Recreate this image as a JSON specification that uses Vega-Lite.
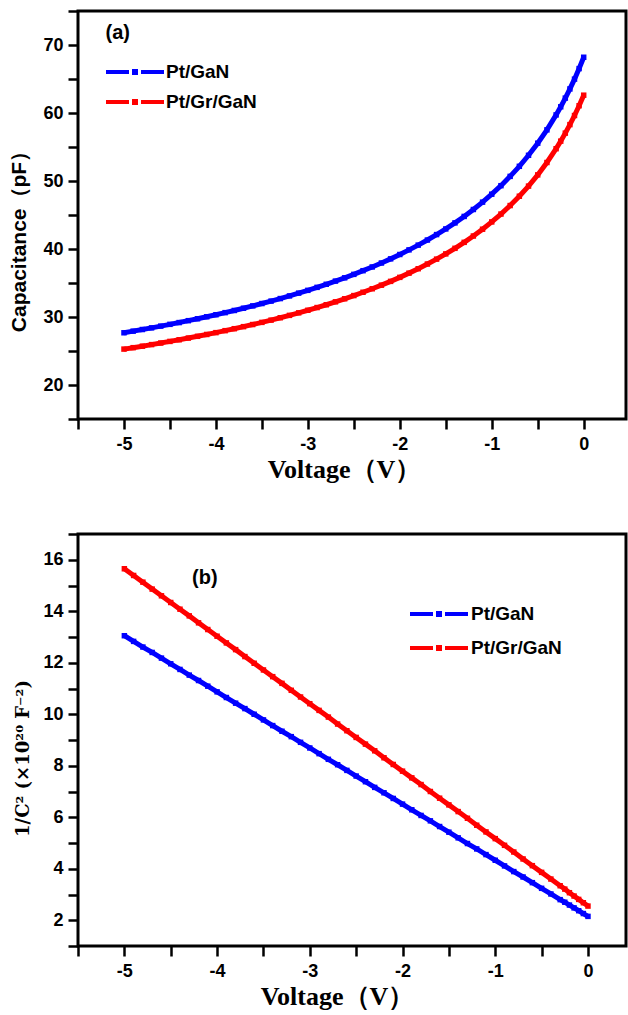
{
  "$schema": "https://vega.github.io/schema/vega-lite/v6.json",
  "background": "white",
  "padding": {"left": 6, "top": 0, "right": 0, "bottom": 4},
  "config": {
    "view": {"stroke": "black", "strokeWidth": 3},
    "axis": {"domain": false, "grid": false, "tickColor": "black", "tickWidth": 2.5, "labelColor": "black", "labelFont": "Liberation Sans", "labelFontWeight": "bold", "labelFontSize": 18, "titleColor": "black", "labelFlush": false, "labelOverlap": false, "tickCount": 40},
    "legend": {"title": null, "symbolType": "M-2.9,0H-0.6M0.6,0H2.9M-0.1,-0.1H0.1V0.1H-0.1Z", "symbolSize": 400, "symbolStrokeWidth": 4, "labelFont": "Liberation Sans", "labelFontWeight": "bold", "labelFontSize": 19, "labelColor": "black", "labelOffset": 18, "padding": 0, "symbolOffset": 0}
  },
  "data": {"values": [
    {"voltage": -5.0, "sample": "Pt/GaN", "capacitance": 27.68, "invC2": 13.05},
    {"voltage": -4.9, "sample": "Pt/GaN", "capacitance": 27.92, "invC2": 12.83},
    {"voltage": -4.8, "sample": "Pt/GaN", "capacitance": 28.16, "invC2": 12.61},
    {"voltage": -4.7, "sample": "Pt/GaN", "capacitance": 28.40, "invC2": 12.40},
    {"voltage": -4.6, "sample": "Pt/GaN", "capacitance": 28.66, "invC2": 12.18},
    {"voltage": -4.5, "sample": "Pt/GaN", "capacitance": 28.92, "invC2": 11.96},
    {"voltage": -4.4, "sample": "Pt/GaN", "capacitance": 29.18, "invC2": 11.74},
    {"voltage": -4.3, "sample": "Pt/GaN", "capacitance": 29.46, "invC2": 11.52},
    {"voltage": -4.2, "sample": "Pt/GaN", "capacitance": 29.74, "invC2": 11.31},
    {"voltage": -4.1, "sample": "Pt/GaN", "capacitance": 30.03, "invC2": 11.09},
    {"voltage": -4.0, "sample": "Pt/GaN", "capacitance": 30.33, "invC2": 10.87},
    {"voltage": -3.9, "sample": "Pt/GaN", "capacitance": 30.64, "invC2": 10.65},
    {"voltage": -3.8, "sample": "Pt/GaN", "capacitance": 30.96, "invC2": 10.43},
    {"voltage": -3.7, "sample": "Pt/GaN", "capacitance": 31.29, "invC2": 10.22},
    {"voltage": -3.6, "sample": "Pt/GaN", "capacitance": 31.63, "invC2": 10.00},
    {"voltage": -3.5, "sample": "Pt/GaN", "capacitance": 31.98, "invC2": 9.78},
    {"voltage": -3.4, "sample": "Pt/GaN", "capacitance": 32.34, "invC2": 9.56},
    {"voltage": -3.3, "sample": "Pt/GaN", "capacitance": 32.71, "invC2": 9.34},
    {"voltage": -3.2, "sample": "Pt/GaN", "capacitance": 33.10, "invC2": 9.13},
    {"voltage": -3.1, "sample": "Pt/GaN", "capacitance": 33.51, "invC2": 8.91},
    {"voltage": -3.0, "sample": "Pt/GaN", "capacitance": 33.92, "invC2": 8.69},
    {"voltage": -2.9, "sample": "Pt/GaN", "capacitance": 34.36, "invC2": 8.47},
    {"voltage": -2.8, "sample": "Pt/GaN", "capacitance": 34.81, "invC2": 8.25},
    {"voltage": -2.7, "sample": "Pt/GaN", "capacitance": 35.28, "invC2": 8.04},
    {"voltage": -2.6, "sample": "Pt/GaN", "capacitance": 35.76, "invC2": 7.82},
    {"voltage": -2.5, "sample": "Pt/GaN", "capacitance": 36.27, "invC2": 7.60},
    {"voltage": -2.4, "sample": "Pt/GaN", "capacitance": 36.81, "invC2": 7.38},
    {"voltage": -2.3, "sample": "Pt/GaN", "capacitance": 37.36, "invC2": 7.16},
    {"voltage": -2.2, "sample": "Pt/GaN", "capacitance": 37.94, "invC2": 6.95},
    {"voltage": -2.1, "sample": "Pt/GaN", "capacitance": 38.55, "invC2": 6.73},
    {"voltage": -2.0, "sample": "Pt/GaN", "capacitance": 39.19, "invC2": 6.51},
    {"voltage": -1.9, "sample": "Pt/GaN", "capacitance": 39.87, "invC2": 6.29},
    {"voltage": -1.8, "sample": "Pt/GaN", "capacitance": 40.57, "invC2": 6.07},
    {"voltage": -1.7, "sample": "Pt/GaN", "capacitance": 41.32, "invC2": 5.86},
    {"voltage": -1.6, "sample": "Pt/GaN", "capacitance": 42.12, "invC2": 5.64},
    {"voltage": -1.5, "sample": "Pt/GaN", "capacitance": 42.95, "invC2": 5.42},
    {"voltage": -1.4, "sample": "Pt/GaN", "capacitance": 43.84, "invC2": 5.20},
    {"voltage": -1.3, "sample": "Pt/GaN", "capacitance": 44.79, "invC2": 4.98},
    {"voltage": -1.2, "sample": "Pt/GaN", "capacitance": 45.81, "invC2": 4.77},
    {"voltage": -1.1, "sample": "Pt/GaN", "capacitance": 46.89, "invC2": 4.55},
    {"voltage": -1.0, "sample": "Pt/GaN", "capacitance": 48.06, "invC2": 4.33},
    {"voltage": -0.9, "sample": "Pt/GaN", "capacitance": 49.31, "invC2": 4.11},
    {"voltage": -0.8, "sample": "Pt/GaN", "capacitance": 50.68, "invC2": 3.89},
    {"voltage": -0.7, "sample": "Pt/GaN", "capacitance": 52.16, "invC2": 3.68},
    {"voltage": -0.6, "sample": "Pt/GaN", "capacitance": 53.78, "invC2": 3.46},
    {"voltage": -0.5, "sample": "Pt/GaN", "capacitance": 55.56, "invC2": 3.24},
    {"voltage": -0.4, "sample": "Pt/GaN", "capacitance": 57.52, "invC2": 3.02},
    {"voltage": -0.3, "sample": "Pt/GaN", "capacitance": 59.72, "invC2": 2.80},
    {"voltage": -0.25, "sample": "Pt/GaN", "capacitance": 60.91, "invC2": 2.70},
    {"voltage": -0.2, "sample": "Pt/GaN", "capacitance": 62.19, "invC2": 2.59},
    {"voltage": -0.15, "sample": "Pt/GaN", "capacitance": 63.54, "invC2": 2.48},
    {"voltage": -0.1, "sample": "Pt/GaN", "capacitance": 64.98, "invC2": 2.37},
    {"voltage": -0.05, "sample": "Pt/GaN", "capacitance": 66.53, "invC2": 2.26},
    {"voltage": 0.0, "sample": "Pt/GaN", "capacitance": 68.20, "invC2": 2.15},
    {"voltage": -5.0, "sample": "Pt/Gr/GaN", "capacitance": 25.28, "invC2": 15.65},
    {"voltage": -4.9, "sample": "Pt/Gr/GaN", "capacitance": 25.49, "invC2": 15.39},
    {"voltage": -4.8, "sample": "Pt/Gr/GaN", "capacitance": 25.71, "invC2": 15.13},
    {"voltage": -4.7, "sample": "Pt/Gr/GaN", "capacitance": 25.94, "invC2": 14.86},
    {"voltage": -4.6, "sample": "Pt/Gr/GaN", "capacitance": 26.17, "invC2": 14.60},
    {"voltage": -4.5, "sample": "Pt/Gr/GaN", "capacitance": 26.41, "invC2": 14.34},
    {"voltage": -4.4, "sample": "Pt/Gr/GaN", "capacitance": 26.65, "invC2": 14.08},
    {"voltage": -4.3, "sample": "Pt/Gr/GaN", "capacitance": 26.90, "invC2": 13.82},
    {"voltage": -4.2, "sample": "Pt/Gr/GaN", "capacitance": 27.16, "invC2": 13.55},
    {"voltage": -4.1, "sample": "Pt/Gr/GaN", "capacitance": 27.43, "invC2": 13.29},
    {"voltage": -4.0, "sample": "Pt/Gr/GaN", "capacitance": 27.70, "invC2": 13.03},
    {"voltage": -3.9, "sample": "Pt/Gr/GaN", "capacitance": 27.99, "invC2": 12.77},
    {"voltage": -3.8, "sample": "Pt/Gr/GaN", "capacitance": 28.28, "invC2": 12.51},
    {"voltage": -3.7, "sample": "Pt/Gr/GaN", "capacitance": 28.58, "invC2": 12.24},
    {"voltage": -3.6, "sample": "Pt/Gr/GaN", "capacitance": 28.89, "invC2": 11.98},
    {"voltage": -3.5, "sample": "Pt/Gr/GaN", "capacitance": 29.21, "invC2": 11.72},
    {"voltage": -3.4, "sample": "Pt/Gr/GaN", "capacitance": 29.54, "invC2": 11.46},
    {"voltage": -3.3, "sample": "Pt/Gr/GaN", "capacitance": 29.89, "invC2": 11.20},
    {"voltage": -3.2, "sample": "Pt/Gr/GaN", "capacitance": 30.24, "invC2": 10.93},
    {"voltage": -3.1, "sample": "Pt/Gr/GaN", "capacitance": 30.61, "invC2": 10.67},
    {"voltage": -3.0, "sample": "Pt/Gr/GaN", "capacitance": 30.99, "invC2": 10.41},
    {"voltage": -2.9, "sample": "Pt/Gr/GaN", "capacitance": 31.39, "invC2": 10.15},
    {"voltage": -2.8, "sample": "Pt/Gr/GaN", "capacitance": 31.80, "invC2": 9.89},
    {"voltage": -2.7, "sample": "Pt/Gr/GaN", "capacitance": 32.23, "invC2": 9.62},
    {"voltage": -2.6, "sample": "Pt/Gr/GaN", "capacitance": 32.68, "invC2": 9.36},
    {"voltage": -2.5, "sample": "Pt/Gr/GaN", "capacitance": 33.15, "invC2": 9.10},
    {"voltage": -2.4, "sample": "Pt/Gr/GaN", "capacitance": 33.64, "invC2": 8.84},
    {"voltage": -2.3, "sample": "Pt/Gr/GaN", "capacitance": 34.15, "invC2": 8.58},
    {"voltage": -2.2, "sample": "Pt/Gr/GaN", "capacitance": 34.68, "invC2": 8.31},
    {"voltage": -2.1, "sample": "Pt/Gr/GaN", "capacitance": 35.24, "invC2": 8.05},
    {"voltage": -2.0, "sample": "Pt/Gr/GaN", "capacitance": 35.83, "invC2": 7.79},
    {"voltage": -1.9, "sample": "Pt/Gr/GaN", "capacitance": 36.45, "invC2": 7.53},
    {"voltage": -1.8, "sample": "Pt/Gr/GaN", "capacitance": 37.10, "invC2": 7.27},
    {"voltage": -1.7, "sample": "Pt/Gr/GaN", "capacitance": 37.79, "invC2": 7.00},
    {"voltage": -1.6, "sample": "Pt/Gr/GaN", "capacitance": 38.51, "invC2": 6.74},
    {"voltage": -1.5, "sample": "Pt/Gr/GaN", "capacitance": 39.28, "invC2": 6.48},
    {"voltage": -1.4, "sample": "Pt/Gr/GaN", "capacitance": 40.10, "invC2": 6.22},
    {"voltage": -1.3, "sample": "Pt/Gr/GaN", "capacitance": 40.98, "invC2": 5.96},
    {"voltage": -1.2, "sample": "Pt/Gr/GaN", "capacitance": 41.91, "invC2": 5.69},
    {"voltage": -1.1, "sample": "Pt/Gr/GaN", "capacitance": 42.91, "invC2": 5.43},
    {"voltage": -1.0, "sample": "Pt/Gr/GaN", "capacitance": 43.98, "invC2": 5.17},
    {"voltage": -0.9, "sample": "Pt/Gr/GaN", "capacitance": 45.14, "invC2": 4.91},
    {"voltage": -0.8, "sample": "Pt/Gr/GaN", "capacitance": 46.39, "invC2": 4.65},
    {"voltage": -0.7, "sample": "Pt/Gr/GaN", "capacitance": 47.76, "invC2": 4.38},
    {"voltage": -0.6, "sample": "Pt/Gr/GaN", "capacitance": 49.25, "invC2": 4.12},
    {"voltage": -0.5, "sample": "Pt/Gr/GaN", "capacitance": 50.90, "invC2": 3.86},
    {"voltage": -0.4, "sample": "Pt/Gr/GaN", "capacitance": 52.72, "invC2": 3.60},
    {"voltage": -0.3, "sample": "Pt/Gr/GaN", "capacitance": 54.75, "invC2": 3.34},
    {"voltage": -0.25, "sample": "Pt/Gr/GaN", "capacitance": 55.86, "invC2": 3.21},
    {"voltage": -0.2, "sample": "Pt/Gr/GaN", "capacitance": 57.04, "invC2": 3.07},
    {"voltage": -0.15, "sample": "Pt/Gr/GaN", "capacitance": 58.29, "invC2": 2.94},
    {"voltage": -0.1, "sample": "Pt/Gr/GaN", "capacitance": 59.63, "invC2": 2.81},
    {"voltage": -0.05, "sample": "Pt/Gr/GaN", "capacitance": 61.07, "invC2": 2.68},
    {"voltage": 0.0, "sample": "Pt/Gr/GaN", "capacitance": 62.62, "invC2": 2.55}
  ]},
  "bounds": "flush",
  "spacing": 115,
  "resolve": {"scale": {"color": "independent"}, "legend": {"color": "independent"}},
  "vconcat": [
    {
      "width": 548,
      "height": 408,
      "layer": [
        {
          "mark": {"type": "line", "strokeWidth": 5, "point": {"shape": "square", "size": 30, "filled": true}},
          "encoding": {
            "x": {"field": "voltage", "type": "quantitative",
              "scale": {"domain": [-5.5, 0.46], "nice": false, "zero": false},
              "axis": {"title": "Voltage（V）", "values": [-5.5, -5, -4.5, -4, -3.5, -3, -2.5, -2, -1.5, -1, -0.5, 0],
                "labelExpr": "datum.value % 1 === 0 ? '' + datum.value : ''", "tickSize": 10,
                "encode": {"ticks": {"update": {"y2": {"signal": "datum.value % 1 === 0 ? 10 : 6"}}}},
                "labelPadding": 6, "titleFont": "Liberation Serif", "titleFontWeight": "bold", "titleFontSize": 26, "titlePadding": 3, "titleX": 266}},
            "y": {"field": "capacitance", "type": "quantitative",
              "scale": {"domain": [15, 75], "nice": false, "zero": false},
              "axis": {"title": "Capacitance（pF）", "values": [15, 20, 25, 30, 35, 40, 45, 50, 55, 60, 65, 70, 75],
                "labelExpr": "datum.value % 10 === 0 ? '' + datum.value : ''", "tickSize": 10,
                "encode": {"ticks": {"update": {"x2": {"signal": "datum.value % 10 === 0 ? -10 : -6"}}}},
                "labelPadding": 5, "minExtent": 35, "maxExtent": 35, "titlePadding": 14, "titleY": 225,
                "titleFont": "Liberation Sans", "titleFontWeight": "bold", "titleFontSize": 21}},
            "color": {"field": "sample", "type": "nominal",
              "scale": {"domain": ["Pt/GaN", "Pt/Gr/GaN"], "range": ["#0000ff", "#ff0000"]},
              "legend": {"orient": "none", "legendX": 45, "legendY": 49, "rowPadding": 8, "labelOffset": 19}}
          }
        },
        {
          "data": {"values": [{"label": "(a)"}]},
          "mark": {"type": "text", "align": "left", "baseline": "middle", "font": "Liberation Sans", "fontWeight": "bold", "fontSize": 20, "color": "black"},
          "encoding": {"x": {"datum": -5.2}, "y": {"datum": 71.75}, "text": {"field": "label"}}
        }
      ]
    },
    {
      "width": 548,
      "height": 412,
      "layer": [
        {
          "mark": {"type": "line", "strokeWidth": 5, "point": {"shape": "square", "size": 30, "filled": true}},
          "encoding": {
            "x": {"field": "voltage", "type": "quantitative",
              "scale": {"domain": [-5.5, 0.41], "nice": false, "zero": false},
              "axis": {"title": "Voltage（V）", "values": [-5.5, -5, -4.5, -4, -3.5, -3, -2.5, -2, -1.5, -1, -0.5, 0],
                "labelExpr": "datum.value % 1 === 0 ? '' + datum.value : ''", "tickSize": 10,
                "encode": {"ticks": {"update": {"y2": {"signal": "datum.value % 1 === 0 ? 10 : 6"}}}},
                "labelPadding": 6, "titleFont": "Liberation Serif", "titleFontWeight": "bold", "titleFontSize": 26, "titlePadding": 3, "titleX": 259}},
            "y": {"field": "invC2", "type": "quantitative",
              "scale": {"domain": [1, 17], "nice": false, "zero": false},
              "axis": {"title": "1/C² (×10²⁰ F⁻²)", "values": [1, 2, 3, 4, 5, 6, 7, 8, 9, 10, 11, 12, 13, 14, 15, 16, 17],
                "labelExpr": "datum.value % 2 === 0 ? '' + datum.value : ''", "tickSize": 10,
                "encode": {"ticks": {"update": {"x2": {"signal": "datum.value % 2 === 0 ? -10 : -6"}}}},
                "labelPadding": 5, "minExtent": 35, "maxExtent": 35, "titlePadding": 11, "titleY": 224,
                "titleFont": "DejaVu Serif", "titleFontWeight": "bold", "titleFontSize": 18}},
            "color": {"field": "sample", "type": "nominal",
              "scale": {"domain": ["Pt/GaN", "Pt/Gr/GaN"], "range": ["#0000ff", "#ff0000"]},
              "legend": {"orient": "none", "legendX": 349, "legendY": 68, "rowPadding": 12, "labelOffset": 20}}
          }
        },
        {
          "data": {"values": [{"label": "(b)"}]},
          "mark": {"type": "text", "align": "left", "baseline": "middle", "font": "Liberation Sans", "fontWeight": "bold", "fontSize": 20, "color": "black"},
          "encoding": {"x": {"datum": -4.27}, "y": {"datum": 15.3}, "text": {"field": "label"}}
        }
      ]
    }
  ]
}
